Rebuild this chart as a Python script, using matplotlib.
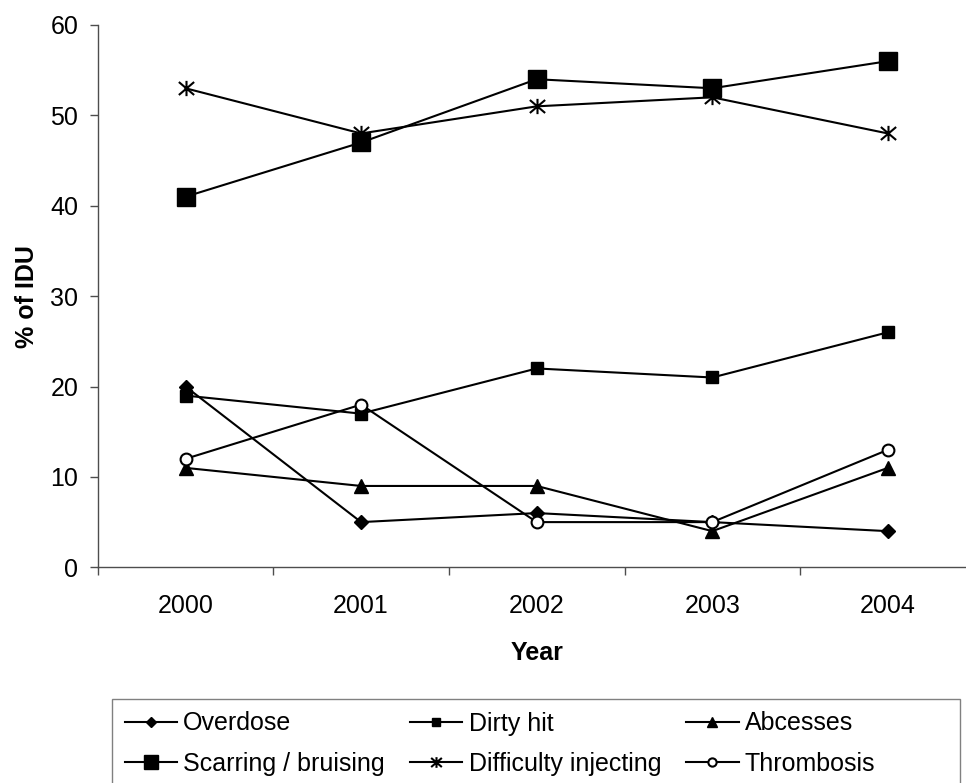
import numpy as np
import matplotlib
matplotlib.use('Agg')
import matplotlib.pyplot as plt
from matplotlib.path import Path
from matplotlib.patches import Rectangle

plt.rcParams['font.family'] = ['Liberation Sans', 'DejaVu Sans']

years = ['2000', '2001', '2002', '2003', '2004']

overdose = [20, 5, 6, 5, 4]
dirty_hit = [19, 17, 22, 21, 26]
abcesses = [11, 9, 9, 4, 11]
scarring = [41, 47, 54, 53, 56]
difficulty = [53, 48, 51, 52, 48]
thrombosis = [12, 18, 5, 5, 13]

x = np.arange(len(years))

# x-with-a-bar asterisk
star = Path([(-1, -0.85), (1, 0.85), (-1, 0.85), (1, -0.85), (0, -1), (0, 1)],
            [Path.MOVETO, Path.LINETO, Path.MOVETO, Path.LINETO, Path.MOVETO, Path.LINETO])

fig = plt.figure(figsize=(9.66, 7.83), dpi=100)
ax = fig.add_axes([97.7/966, 1-567.3/783, 878/966, (567.3-25)/783])

lw = 1.5
l1, = ax.plot(x, overdose, color='k', lw=lw, marker='D', ms=7, label='Overdose')
l2, = ax.plot(x, dirty_hit, color='k', lw=lw, marker='s', ms=8, label='Dirty hit')
l3, = ax.plot(x, abcesses, color='k', lw=lw, marker='^', ms=10, label='Abcesses')
l4, = ax.plot(x, scarring, color='k', lw=lw, marker='s', ms=13.5, label='Scarring / bruising')
l5, = ax.plot(x, difficulty, color='k', lw=lw, marker=star, ms=11, mew=1.5,
              label='Difficulty injecting')
l6, = ax.plot(x, thrombosis, color='k', lw=lw, marker='o', ms=8.5, mfc='white', mew=1.5,
              label='Thrombosis')

ax.set_xlim(-0.5, len(years) - 0.5)
ax.set_ylim(0, 60)
ax.set_yticks(np.arange(0, 61, 10))
ax.set_xticks(x)
ax.set_xticklabels(years)
ax.set_xticks(np.arange(-0.5, len(years), 1), minor=True)

for s in ['top', 'right']:
    ax.spines[s].set_visible(False)
for s in ['left', 'bottom']:
    ax.spines[s].set_color('#4d4d4d')
    ax.spines[s].set_linewidth(1.0)

ax.tick_params(axis='x', which='major', length=0, pad=19, labelsize=18)
ax.tick_params(axis='x', which='minor', length=6, width=1.0, color='#4d4d4d', direction='out')
ax.tick_params(axis='y', length=6, width=1.0, color='#4d4d4d', pad=8, labelsize=18)

ax.set_ylabel('% of IDU', fontsize=18, fontweight='bold', labelpad=8)
ax.set_xlabel('Year', fontsize=18, fontweight='bold', labelpad=17)

# legend laid out row by row: matplotlib fills columns first
handles = [l1, l4, l2, l5, l3, l6]
leg = fig.legend(handles=handles, labels=[h.get_label() for h in handles],
                 loc='upper left', bbox_to_anchor=(112/966, 1-699/783),
                 ncol=3, fontsize=18, frameon=False, borderaxespad=0, borderpad=0.5,
                 labelspacing=0.65, handlelength=2.1, handletextpad=0.25,
                 columnspacing=1.0, markerscale=0.7)

fig.patches.append(Rectangle((112/966, -0.02), (960-112)/966, 1-699/783+0.02,
                             transform=fig.transFigure, fill=False,
                             edgecolor='#808080', linewidth=1.0))

fig.savefig('out.png', dpi=100)
